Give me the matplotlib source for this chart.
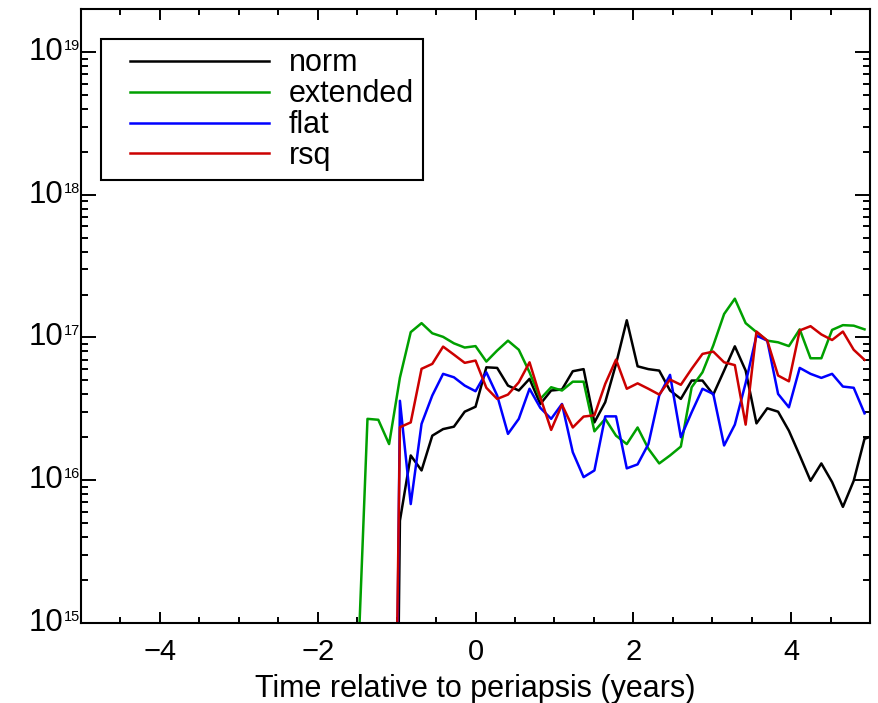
import matplotlib
matplotlib.use('Agg')
import matplotlib.pyplot as plt
import numpy as np
from matplotlib.ticker import LogLocator, MultipleLocator, NullFormatter, FixedLocator
from matplotlib.legend_handler import HandlerLine2D
from matplotlib.lines import Line2D

plt.rcParams['font.family'] = ['Liberation Sans', 'DejaVu Sans']
plt.rcParams['axes.unicode_minus'] = True

nan = np.nan

# time relative to periapsis (years), 50 day sampling
t = [-1.506, -1.369, -1.232, -1.095, -0.958, -0.821, -0.684, -0.548, -0.411, -0.274,
     -0.137, 0.000, 0.137, 0.274, 0.411, 0.548, 0.684, 0.821, 0.958, 1.095,
     1.232, 1.369, 1.506, 1.643, 1.780, 1.916, 2.053, 2.190, 2.327, 2.464,
     2.601, 2.738, 2.875, 3.012, 3.149, 3.285, 3.422, 3.559, 3.696, 3.833,
     3.970, 4.107, 4.244, 4.381, 4.517, 4.654, 4.791, 4.928, 5.065]

norm = [nan, nan, nan, 1e9, 5.2e15, 1.49e16, 1.17e16, 2.05e16, 2.28e16, 2.37e16,
        3.02e16, 3.27e16, 6.18e16, 6.12e16, 4.6e16, 4.25e16, 5.13e16, 3.42e16, 4.25e16, 4.32e16,
        5.8e16, 6.0e16, 2.54e16, 3.52e16, 6.53e16, 1.32e17, 6.28e16, 6.0e16, 5.86e16, 4.25e16,
        3.71e16, 4.99e16, 4.99e16, 3.98e16, 5.86e16, 8.67e16, 5.86e16, 2.5e16, 3.19e16, 3.02e16,
        2.22e16, 1.49e16, 9.9e15, 1.31e16, 9.7e15, 6.5e15, 9.9e15, 1.95e16, 2.07e16]

extended = [3e14, 2.69e16, 2.65e16, 1.79e16, 5.23e16, 1.09e17, 1.26e17, 1.07e17, 1.01e17, 9.1e16,
            8.5e16, 8.7e16, 6.78e16, 8.1e16, 9.5e16, 8.2e16, 5.7e16, 3.71e16, 4.48e16, 4.25e16,
            4.9e16, 4.9e16, 2.2e16, 2.69e16, 2.05e16, 1.79e16, 2.34e16, 1.66e16, 1.31e16, 1.49e16,
            1.72e16, 4.48e16, 5.7e16, 8.8e16, 1.46e17, 1.87e17, 1.26e17, 1.09e17, 9.5e16, 9.25e16,
            8.7e16, 1.14e17, 7.15e16, 7.15e16, 1.13e17, 1.22e17, 1.21e17, 1.14e17, nan]

flat = [nan, nan, nan, 1e9, 3.6e16, 6.8e15, 2.48e16, 3.92e16, 5.56e16, 5.26e16,
        4.6e16, 4.2e16, 5.7e16, 3.92e16, 2.11e16, 2.69e16, 4.37e16, 3.21e16, 2.69e16, 3.42e16,
        1.57e16, 1.05e16, 1.17e16, 2.8e16, 2.8e16, 1.21e16, 1.29e16, 1.79e16, 3.92e16, 5.47e16,
        2.0e16, 2.99e16, 4.37e16, 4.02e16, 1.75e16, 2.45e16, 4.8e16, 1.03e17, 9.5e16, 4.02e16,
        3.24e16, 6.12e16, 5.56e16, 5.21e16, 5.56e16, 4.53e16, 4.44e16, 2.94e16, nan]

rsq = [nan, nan, nan, 5e10, 2.35e16, 2.54e16, 6.03e16, 6.53e16, 8.63e16, 7.58e16,
       6.64e16, 6.89e16, 4.44e16, 3.71e16, 3.98e16, 4.85e16, 6.7e16, 3.81e16, 2.25e16, 3.38e16,
       2.34e16, 2.79e16, 2.85e16, 4.73e16, 7.0e16, 4.37e16, 4.77e16, 4.37e16, 3.98e16, 5.07e16,
       4.66e16, 6.03e16, 7.67e16, 7.96e16, 6.7e16, 6.4e16, 2.45e16, 1.1e17, 9.5e16, 5.41e16,
       4.93e16, 1.12e17, 1.2e17, 1.05e17, 9.6e16, 1.1e17, 8.2e16, 6.97e16, nan]

series = [('norm', norm, 'black'),
          ('extended', extended, '#00a000'),
          ('flat', flat, '#0000ff'),
          ('rsq', rsq, '#cc0000')]

ydecades = [15, 16, 17, 18, 19]


class IndentLine(HandlerLine2D):
    # legend line that starts a bit inside the handle box, like the IDL legend
    def create_artists(self, legend, orig_handle, xdescent, ydescent, width, height, fontsize, trans):
        arts = super().create_artists(legend, orig_handle, xdescent, ydescent, width, height, fontsize, trans)
        for a in arts:
            xd = np.asarray(a.get_xdata(), dtype=float)
            if len(xd) >= 2:
                a.set_xdata(np.linspace(xd[0] + 0.65 * fontsize, xd[-1], len(xd)))
        return arts


fig = plt.figure(figsize=(8.79, 7.03), dpi=100)
ax = fig.add_axes([0.092, 0.114, 0.898, 0.873])

for name, vals, col in series:
    ax.plot(t, vals, color=col, lw=1.8, label=name)

ax.set_yscale('log')
ax.set_xlim(-5, 5)
ax.set_ylim(1e15, 2e19)

ax.xaxis.set_major_locator(FixedLocator([-4, -2, 0, 2, 4]))
ax.xaxis.set_minor_locator(MultipleLocator(0.5))
ax.yaxis.set_major_locator(FixedLocator([10.0 ** d for d in ydecades]))
ax.yaxis.set_minor_locator(LogLocator(base=10, subs=np.arange(2, 10), numticks=20))
ax.yaxis.set_minor_formatter(NullFormatter())
ax.yaxis.set_major_formatter(NullFormatter())

ax.tick_params(axis='x', which='major', direction='in', length=8, width=1.4,
               top=True, bottom=True, labelsize=21, pad=11)
ax.tick_params(axis='x', which='minor', direction='in', length=4, width=1.4,
               top=True, bottom=True)
ax.tick_params(axis='y', which='major', direction='in', length=11, width=1.4,
               left=True, right=True)
ax.tick_params(axis='y', which='minor', direction='in', length=5, width=1.4,
               left=True, right=True)
for s in ax.spines.values():
    s.set_linewidth(1.5)

# IDL style exponent labels: big "10" with a small raised exponent
for d in ydecades:
    ax.annotate('10', xy=(0, 10.0 ** d), xycoords=('axes fraction', 'data'),
                xytext=(-12.5, 0), textcoords='offset points',
                ha='right', va='center', fontsize=22.5)
    ax.annotate(str(d), xy=(0, 10.0 ** d), xycoords=('axes fraction', 'data'),
                xytext=(-12.3, 4.5), textcoords='offset points',
                ha='left', va='center', fontsize=10.5)

ax.set_xlabel('Time relative to periapsis (years)', fontsize=22, labelpad=6)

leg = ax.legend(loc='upper left', bbox_to_anchor=(0.025, 0.951), fontsize=22,
                handlelength=5.2, handletextpad=0.65, labelspacing=0.03,
                borderpad=0.3, borderaxespad=0, fancybox=False, framealpha=1,
                edgecolor='black', handler_map={Line2D: IndentLine()})
leg.get_frame().set_linewidth(1.5)
for h in leg.legend_handles:
    h.set_linewidth(1.8)

fig.savefig('out.png', dpi=100)
